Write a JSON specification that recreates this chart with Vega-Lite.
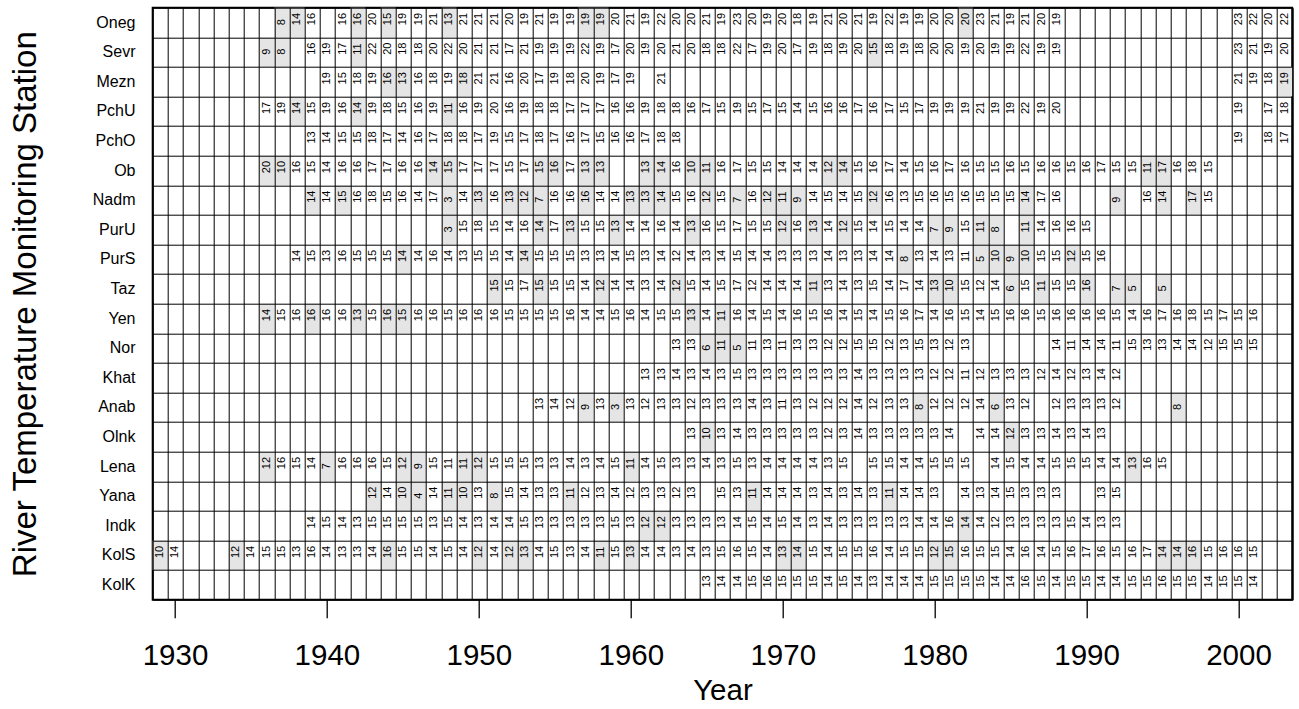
{
"$schema": "https://vega.github.io/schema/vega-lite/v6.json",
"width": 1139.5,
"height": 592,
"autosize": {"type": "none"},
"padding": {"left": 152.7, "top": 7.7, "right": 6.8, "bottom": 109.3},
"background": "white",
"config": {"view": {"stroke": "#000", "strokeWidth": 2}, "font": "Liberation Sans", "axis": {"labelFont": "Liberation Sans", "titleFont": "Liberation Sans", "labelColor": "#000", "titleColor": "#000", "titleFontWeight": "normal", "labelFontWeight": "normal"}},
"data": {"values": [
{"st":"Oneg","yr":1937,"v":8,"s":1},{"st":"Oneg","yr":1938,"v":14,"s":1},{"st":"Oneg","yr":1939,"v":16},{"st":"Oneg","yr":1941,"v":16},{"st":"Oneg","yr":1942,"v":16,"s":1},{"st":"Oneg","yr":1943,"v":20},{"st":"Oneg","yr":1944,"v":15,"s":1},{"st":"Oneg","yr":1945,"v":19},{"st":"Oneg","yr":1946,"v":19},{"st":"Oneg","yr":1947,"v":21},{"st":"Oneg","yr":1948,"v":13,"s":1},{"st":"Oneg","yr":1949,"v":21},{"st":"Oneg","yr":1950,"v":21},{"st":"Oneg","yr":1951,"v":21},{"st":"Oneg","yr":1952,"v":20},{"st":"Oneg","yr":1953,"v":19},{"st":"Oneg","yr":1954,"v":21},{"st":"Oneg","yr":1955,"v":19},{"st":"Oneg","yr":1956,"v":19},{"st":"Oneg","yr":1957,"v":19,"s":1},{"st":"Oneg","yr":1958,"v":19,"s":1},{"st":"Oneg","yr":1959,"v":20},{"st":"Oneg","yr":1960,"v":21},{"st":"Oneg","yr":1961,"v":19},{"st":"Oneg","yr":1962,"v":22},{"st":"Oneg","yr":1963,"v":20},{"st":"Oneg","yr":1964,"v":20},{"st":"Oneg","yr":1965,"v":21},{"st":"Oneg","yr":1966,"v":19},{"st":"Oneg","yr":1967,"v":23},{"st":"Oneg","yr":1968,"v":20},{"st":"Oneg","yr":1969,"v":19},{"st":"Oneg","yr":1970,"v":20},{"st":"Oneg","yr":1971,"v":18},{"st":"Oneg","yr":1972,"v":19},{"st":"Oneg","yr":1973,"v":21},{"st":"Oneg","yr":1974,"v":20},{"st":"Oneg","yr":1975,"v":21},{"st":"Oneg","yr":1976,"v":19},{"st":"Oneg","yr":1977,"v":22},{"st":"Oneg","yr":1978,"v":19},{"st":"Oneg","yr":1979,"v":19},{"st":"Oneg","yr":1980,"v":20},{"st":"Oneg","yr":1981,"v":20},{"st":"Oneg","yr":1982,"v":20,"s":1},{"st":"Oneg","yr":1983,"v":23},{"st":"Oneg","yr":1984,"v":21},{"st":"Oneg","yr":1985,"v":19},{"st":"Oneg","yr":1986,"v":21},{"st":"Oneg","yr":1987,"v":20},{"st":"Oneg","yr":1988,"v":19},{"st":"Oneg","yr":2000,"v":23},{"st":"Oneg","yr":2001,"v":22},{"st":"Oneg","yr":2002,"v":20},{"st":"Oneg","yr":2003,"v":22},
{"st":"Sevr","yr":1936,"v":9,"s":1},{"st":"Sevr","yr":1937,"v":8,"s":1},{"st":"Sevr","yr":1939,"v":16},{"st":"Sevr","yr":1940,"v":19},{"st":"Sevr","yr":1941,"v":17},{"st":"Sevr","yr":1942,"v":11,"s":1},{"st":"Sevr","yr":1943,"v":22},{"st":"Sevr","yr":1944,"v":20},{"st":"Sevr","yr":1945,"v":18},{"st":"Sevr","yr":1946,"v":18},{"st":"Sevr","yr":1947,"v":20},{"st":"Sevr","yr":1948,"v":22},{"st":"Sevr","yr":1949,"v":20},{"st":"Sevr","yr":1950,"v":21},{"st":"Sevr","yr":1951,"v":21},{"st":"Sevr","yr":1952,"v":17},{"st":"Sevr","yr":1953,"v":21},{"st":"Sevr","yr":1954,"v":19},{"st":"Sevr","yr":1955,"v":19},{"st":"Sevr","yr":1956,"v":19},{"st":"Sevr","yr":1957,"v":22},{"st":"Sevr","yr":1958,"v":19},{"st":"Sevr","yr":1959,"v":17},{"st":"Sevr","yr":1960,"v":20},{"st":"Sevr","yr":1961,"v":19},{"st":"Sevr","yr":1962,"v":20},{"st":"Sevr","yr":1963,"v":21},{"st":"Sevr","yr":1964,"v":20},{"st":"Sevr","yr":1965,"v":18},{"st":"Sevr","yr":1966,"v":18},{"st":"Sevr","yr":1967,"v":22},{"st":"Sevr","yr":1968,"v":17},{"st":"Sevr","yr":1969,"v":19},{"st":"Sevr","yr":1970,"v":20},{"st":"Sevr","yr":1971,"v":17},{"st":"Sevr","yr":1972,"v":19},{"st":"Sevr","yr":1973,"v":18},{"st":"Sevr","yr":1974,"v":19},{"st":"Sevr","yr":1975,"v":20},{"st":"Sevr","yr":1976,"v":15,"s":1},{"st":"Sevr","yr":1977,"v":18},{"st":"Sevr","yr":1978,"v":19},{"st":"Sevr","yr":1979,"v":18},{"st":"Sevr","yr":1980,"v":20},{"st":"Sevr","yr":1981,"v":20},{"st":"Sevr","yr":1982,"v":19},{"st":"Sevr","yr":1983,"v":20},{"st":"Sevr","yr":1984,"v":19},{"st":"Sevr","yr":1985,"v":19},{"st":"Sevr","yr":1986,"v":22},{"st":"Sevr","yr":1987,"v":19},{"st":"Sevr","yr":1988,"v":19},{"st":"Sevr","yr":2000,"v":23},{"st":"Sevr","yr":2001,"v":21},{"st":"Sevr","yr":2002,"v":19},{"st":"Sevr","yr":2003,"v":20},
{"st":"Mezn","yr":1940,"v":19},{"st":"Mezn","yr":1941,"v":15},{"st":"Mezn","yr":1942,"v":18},{"st":"Mezn","yr":1943,"v":19},{"st":"Mezn","yr":1944,"v":16,"s":1},{"st":"Mezn","yr":1945,"v":13,"s":1},{"st":"Mezn","yr":1946,"v":16},{"st":"Mezn","yr":1947,"v":18},{"st":"Mezn","yr":1948,"v":19},{"st":"Mezn","yr":1949,"v":18,"s":1},{"st":"Mezn","yr":1950,"v":21},{"st":"Mezn","yr":1951,"v":21},{"st":"Mezn","yr":1952,"v":16},{"st":"Mezn","yr":1953,"v":20},{"st":"Mezn","yr":1954,"v":17},{"st":"Mezn","yr":1955,"v":19},{"st":"Mezn","yr":1956,"v":18},{"st":"Mezn","yr":1957,"v":20},{"st":"Mezn","yr":1958,"v":19},{"st":"Mezn","yr":1959,"v":17},{"st":"Mezn","yr":1960,"v":19},{"st":"Mezn","yr":1962,"v":21},{"st":"Mezn","yr":2000,"v":21},{"st":"Mezn","yr":2001,"v":19},{"st":"Mezn","yr":2002,"v":18},{"st":"Mezn","yr":2003,"v":19,"s":1},
{"st":"PchU","yr":1936,"v":17},{"st":"PchU","yr":1937,"v":19},{"st":"PchU","yr":1938,"v":14,"s":1},{"st":"PchU","yr":1939,"v":15},{"st":"PchU","yr":1940,"v":19},{"st":"PchU","yr":1941,"v":16},{"st":"PchU","yr":1942,"v":14,"s":1},{"st":"PchU","yr":1943,"v":19},{"st":"PchU","yr":1944,"v":18},{"st":"PchU","yr":1945,"v":15},{"st":"PchU","yr":1946,"v":16},{"st":"PchU","yr":1947,"v":19},{"st":"PchU","yr":1948,"v":11,"s":1},{"st":"PchU","yr":1949,"v":16},{"st":"PchU","yr":1950,"v":19},{"st":"PchU","yr":1951,"v":20},{"st":"PchU","yr":1952,"v":16},{"st":"PchU","yr":1953,"v":19},{"st":"PchU","yr":1954,"v":18},{"st":"PchU","yr":1955,"v":18},{"st":"PchU","yr":1956,"v":17},{"st":"PchU","yr":1957,"v":17},{"st":"PchU","yr":1958,"v":17},{"st":"PchU","yr":1959,"v":16},{"st":"PchU","yr":1960,"v":16},{"st":"PchU","yr":1961,"v":19},{"st":"PchU","yr":1962,"v":18},{"st":"PchU","yr":1963,"v":18},{"st":"PchU","yr":1964,"v":16},{"st":"PchU","yr":1965,"v":17},{"st":"PchU","yr":1966,"v":15},{"st":"PchU","yr":1967,"v":19},{"st":"PchU","yr":1968,"v":15},{"st":"PchU","yr":1969,"v":17},{"st":"PchU","yr":1970,"v":15},{"st":"PchU","yr":1971,"v":14},{"st":"PchU","yr":1972,"v":15},{"st":"PchU","yr":1973,"v":16},{"st":"PchU","yr":1974,"v":16},{"st":"PchU","yr":1975,"v":17},{"st":"PchU","yr":1976,"v":16},{"st":"PchU","yr":1977,"v":17},{"st":"PchU","yr":1978,"v":15},{"st":"PchU","yr":1979,"v":17},{"st":"PchU","yr":1980,"v":19},{"st":"PchU","yr":1981,"v":19},{"st":"PchU","yr":1982,"v":19},{"st":"PchU","yr":1983,"v":21},{"st":"PchU","yr":1984,"v":19},{"st":"PchU","yr":1985,"v":19},{"st":"PchU","yr":1986,"v":22},{"st":"PchU","yr":1987,"v":19},{"st":"PchU","yr":1988,"v":20},{"st":"PchU","yr":2000,"v":19},{"st":"PchU","yr":2002,"v":17},{"st":"PchU","yr":2003,"v":18},
{"st":"PchO","yr":1939,"v":13},{"st":"PchO","yr":1940,"v":14},{"st":"PchO","yr":1941,"v":15},{"st":"PchO","yr":1942,"v":15},{"st":"PchO","yr":1943,"v":18},{"st":"PchO","yr":1944,"v":17},{"st":"PchO","yr":1945,"v":14},{"st":"PchO","yr":1946,"v":16},{"st":"PchO","yr":1947,"v":17},{"st":"PchO","yr":1948,"v":18},{"st":"PchO","yr":1949,"v":18},{"st":"PchO","yr":1950,"v":17},{"st":"PchO","yr":1951,"v":19},{"st":"PchO","yr":1952,"v":15},{"st":"PchO","yr":1953,"v":17},{"st":"PchO","yr":1954,"v":18},{"st":"PchO","yr":1955,"v":17},{"st":"PchO","yr":1956,"v":16},{"st":"PchO","yr":1957,"v":17},{"st":"PchO","yr":1958,"v":15},{"st":"PchO","yr":1959,"v":16},{"st":"PchO","yr":1960,"v":16},{"st":"PchO","yr":1961,"v":17},{"st":"PchO","yr":1962,"v":18},{"st":"PchO","yr":1963,"v":18},{"st":"PchO","yr":2000,"v":19},{"st":"PchO","yr":2002,"v":18},{"st":"PchO","yr":2003,"v":17},
{"st":"Ob","yr":1936,"v":20,"s":1},{"st":"Ob","yr":1937,"v":10,"s":1},{"st":"Ob","yr":1938,"v":16},{"st":"Ob","yr":1939,"v":15},{"st":"Ob","yr":1940,"v":14},{"st":"Ob","yr":1941,"v":16},{"st":"Ob","yr":1942,"v":16},{"st":"Ob","yr":1943,"v":17},{"st":"Ob","yr":1944,"v":17},{"st":"Ob","yr":1945,"v":16},{"st":"Ob","yr":1946,"v":16},{"st":"Ob","yr":1947,"v":14,"s":1},{"st":"Ob","yr":1948,"v":15,"s":1},{"st":"Ob","yr":1949,"v":17},{"st":"Ob","yr":1950,"v":17},{"st":"Ob","yr":1951,"v":17},{"st":"Ob","yr":1952,"v":15},{"st":"Ob","yr":1953,"v":17},{"st":"Ob","yr":1954,"v":15,"s":1},{"st":"Ob","yr":1955,"v":16,"s":1},{"st":"Ob","yr":1956,"v":17},{"st":"Ob","yr":1957,"v":13,"s":1},{"st":"Ob","yr":1958,"v":13,"s":1},{"st":"Ob","yr":1961,"v":13,"s":1},{"st":"Ob","yr":1962,"v":14,"s":1},{"st":"Ob","yr":1963,"v":16},{"st":"Ob","yr":1964,"v":10,"s":1},{"st":"Ob","yr":1965,"v":11,"s":1},{"st":"Ob","yr":1966,"v":16},{"st":"Ob","yr":1967,"v":17},{"st":"Ob","yr":1968,"v":15},{"st":"Ob","yr":1969,"v":15},{"st":"Ob","yr":1970,"v":14},{"st":"Ob","yr":1971,"v":14},{"st":"Ob","yr":1972,"v":14},{"st":"Ob","yr":1973,"v":12,"s":1},{"st":"Ob","yr":1974,"v":14,"s":1},{"st":"Ob","yr":1975,"v":15},{"st":"Ob","yr":1976,"v":16},{"st":"Ob","yr":1977,"v":17},{"st":"Ob","yr":1978,"v":14},{"st":"Ob","yr":1979,"v":15},{"st":"Ob","yr":1980,"v":16},{"st":"Ob","yr":1981,"v":17},{"st":"Ob","yr":1982,"v":16},{"st":"Ob","yr":1983,"v":15},{"st":"Ob","yr":1984,"v":15},{"st":"Ob","yr":1985,"v":16},{"st":"Ob","yr":1986,"v":15},{"st":"Ob","yr":1987,"v":16},{"st":"Ob","yr":1988,"v":16},{"st":"Ob","yr":1989,"v":15},{"st":"Ob","yr":1990,"v":16},{"st":"Ob","yr":1991,"v":17},{"st":"Ob","yr":1992,"v":15},{"st":"Ob","yr":1993,"v":15},{"st":"Ob","yr":1994,"v":11,"s":1},{"st":"Ob","yr":1995,"v":17,"s":1},{"st":"Ob","yr":1996,"v":16},{"st":"Ob","yr":1997,"v":18},{"st":"Ob","yr":1998,"v":15},
{"st":"Nadm","yr":1939,"v":14,"s":1},{"st":"Nadm","yr":1940,"v":14},{"st":"Nadm","yr":1941,"v":15,"s":1},{"st":"Nadm","yr":1942,"v":16},{"st":"Nadm","yr":1943,"v":18},{"st":"Nadm","yr":1944,"v":15},{"st":"Nadm","yr":1945,"v":16},{"st":"Nadm","yr":1946,"v":14},{"st":"Nadm","yr":1947,"v":17},{"st":"Nadm","yr":1948,"v":3,"s":1},{"st":"Nadm","yr":1949,"v":14},{"st":"Nadm","yr":1950,"v":13,"s":1},{"st":"Nadm","yr":1951,"v":16},{"st":"Nadm","yr":1952,"v":13,"s":1},{"st":"Nadm","yr":1953,"v":12,"s":1},{"st":"Nadm","yr":1954,"v":7,"s":1},{"st":"Nadm","yr":1955,"v":16},{"st":"Nadm","yr":1956,"v":16},{"st":"Nadm","yr":1957,"v":16,"s":1},{"st":"Nadm","yr":1958,"v":14},{"st":"Nadm","yr":1959,"v":14},{"st":"Nadm","yr":1960,"v":13,"s":1},{"st":"Nadm","yr":1961,"v":13,"s":1},{"st":"Nadm","yr":1962,"v":14,"s":1},{"st":"Nadm","yr":1963,"v":15},{"st":"Nadm","yr":1964,"v":16},{"st":"Nadm","yr":1965,"v":12,"s":1},{"st":"Nadm","yr":1966,"v":15},{"st":"Nadm","yr":1967,"v":7,"s":1},{"st":"Nadm","yr":1968,"v":16},{"st":"Nadm","yr":1969,"v":12,"s":1},{"st":"Nadm","yr":1970,"v":11,"s":1},{"st":"Nadm","yr":1971,"v":9,"s":1},{"st":"Nadm","yr":1972,"v":14},{"st":"Nadm","yr":1973,"v":15},{"st":"Nadm","yr":1974,"v":14},{"st":"Nadm","yr":1975,"v":15},{"st":"Nadm","yr":1976,"v":12,"s":1},{"st":"Nadm","yr":1977,"v":16},{"st":"Nadm","yr":1978,"v":13},{"st":"Nadm","yr":1979,"v":15},{"st":"Nadm","yr":1980,"v":16},{"st":"Nadm","yr":1981,"v":15},{"st":"Nadm","yr":1982,"v":16},{"st":"Nadm","yr":1983,"v":15},{"st":"Nadm","yr":1984,"v":15},{"st":"Nadm","yr":1985,"v":15},{"st":"Nadm","yr":1986,"v":14,"s":1},{"st":"Nadm","yr":1987,"v":17},{"st":"Nadm","yr":1988,"v":16},{"st":"Nadm","yr":1992,"v":9,"s":1},{"st":"Nadm","yr":1994,"v":16},{"st":"Nadm","yr":1995,"v":14,"s":1},{"st":"Nadm","yr":1997,"v":17,"s":1},{"st":"Nadm","yr":1998,"v":15},
{"st":"PurU","yr":1948,"v":3,"s":1},{"st":"PurU","yr":1949,"v":15},{"st":"PurU","yr":1950,"v":18},{"st":"PurU","yr":1951,"v":15},{"st":"PurU","yr":1952,"v":14},{"st":"PurU","yr":1953,"v":16},{"st":"PurU","yr":1954,"v":14,"s":1},{"st":"PurU","yr":1955,"v":17},{"st":"PurU","yr":1956,"v":13,"s":1},{"st":"PurU","yr":1957,"v":15},{"st":"PurU","yr":1958,"v":15},{"st":"PurU","yr":1959,"v":13,"s":1},{"st":"PurU","yr":1960,"v":14},{"st":"PurU","yr":1961,"v":14},{"st":"PurU","yr":1962,"v":16},{"st":"PurU","yr":1963,"v":14},{"st":"PurU","yr":1964,"v":13,"s":1},{"st":"PurU","yr":1965,"v":16},{"st":"PurU","yr":1966,"v":15},{"st":"PurU","yr":1967,"v":17},{"st":"PurU","yr":1968,"v":15},{"st":"PurU","yr":1969,"v":15},{"st":"PurU","yr":1970,"v":12,"s":1},{"st":"PurU","yr":1971,"v":16},{"st":"PurU","yr":1972,"v":13,"s":1},{"st":"PurU","yr":1973,"v":14},{"st":"PurU","yr":1974,"v":12,"s":1},{"st":"PurU","yr":1975,"v":15},{"st":"PurU","yr":1976,"v":14},{"st":"PurU","yr":1977,"v":15},{"st":"PurU","yr":1978,"v":14},{"st":"PurU","yr":1979,"v":14},{"st":"PurU","yr":1980,"v":7,"s":1},{"st":"PurU","yr":1981,"v":9,"s":1},{"st":"PurU","yr":1982,"v":15},{"st":"PurU","yr":1983,"v":11,"s":1},{"st":"PurU","yr":1984,"v":8,"s":1},{"st":"PurU","yr":1986,"v":11,"s":1},{"st":"PurU","yr":1987,"v":14},{"st":"PurU","yr":1988,"v":16},{"st":"PurU","yr":1989,"v":16},{"st":"PurU","yr":1990,"v":15},
{"st":"PurS","yr":1938,"v":14},{"st":"PurS","yr":1939,"v":15},{"st":"PurS","yr":1940,"v":13},{"st":"PurS","yr":1941,"v":16},{"st":"PurS","yr":1942,"v":15},{"st":"PurS","yr":1943,"v":15},{"st":"PurS","yr":1944,"v":15},{"st":"PurS","yr":1945,"v":14,"s":1},{"st":"PurS","yr":1946,"v":14},{"st":"PurS","yr":1947,"v":16},{"st":"PurS","yr":1948,"v":14},{"st":"PurS","yr":1949,"v":13},{"st":"PurS","yr":1950,"v":15},{"st":"PurS","yr":1951,"v":15},{"st":"PurS","yr":1952,"v":14},{"st":"PurS","yr":1953,"v":14,"s":1},{"st":"PurS","yr":1954,"v":15},{"st":"PurS","yr":1955,"v":15},{"st":"PurS","yr":1956,"v":15},{"st":"PurS","yr":1957,"v":13},{"st":"PurS","yr":1958,"v":13},{"st":"PurS","yr":1959,"v":14},{"st":"PurS","yr":1960,"v":15},{"st":"PurS","yr":1961,"v":13},{"st":"PurS","yr":1962,"v":14},{"st":"PurS","yr":1963,"v":12},{"st":"PurS","yr":1964,"v":14},{"st":"PurS","yr":1965,"v":13},{"st":"PurS","yr":1966,"v":14},{"st":"PurS","yr":1967,"v":15},{"st":"PurS","yr":1968,"v":14},{"st":"PurS","yr":1969,"v":14},{"st":"PurS","yr":1970,"v":13},{"st":"PurS","yr":1971,"v":13},{"st":"PurS","yr":1972,"v":13},{"st":"PurS","yr":1973,"v":14},{"st":"PurS","yr":1974,"v":13},{"st":"PurS","yr":1975,"v":13},{"st":"PurS","yr":1976,"v":14},{"st":"PurS","yr":1977,"v":14},{"st":"PurS","yr":1978,"v":8,"s":1},{"st":"PurS","yr":1979,"v":13},{"st":"PurS","yr":1980,"v":14},{"st":"PurS","yr":1981,"v":13},{"st":"PurS","yr":1982,"v":11},{"st":"PurS","yr":1983,"v":5,"s":1},{"st":"PurS","yr":1984,"v":10,"s":1},{"st":"PurS","yr":1985,"v":9,"s":1},{"st":"PurS","yr":1986,"v":10,"s":1},{"st":"PurS","yr":1987,"v":15},{"st":"PurS","yr":1988,"v":15},{"st":"PurS","yr":1989,"v":12,"s":1},{"st":"PurS","yr":1990,"v":15},{"st":"PurS","yr":1991,"v":16},
{"st":"Taz","yr":1951,"v":15,"s":1},{"st":"Taz","yr":1952,"v":15},{"st":"Taz","yr":1953,"v":17},{"st":"Taz","yr":1954,"v":15,"s":1},{"st":"Taz","yr":1955,"v":15},{"st":"Taz","yr":1956,"v":15},{"st":"Taz","yr":1957,"v":14},{"st":"Taz","yr":1958,"v":12,"s":1},{"st":"Taz","yr":1959,"v":14},{"st":"Taz","yr":1960,"v":14},{"st":"Taz","yr":1961,"v":13},{"st":"Taz","yr":1962,"v":14},{"st":"Taz","yr":1963,"v":12,"s":1},{"st":"Taz","yr":1964,"v":15},{"st":"Taz","yr":1965,"v":14},{"st":"Taz","yr":1966,"v":15},{"st":"Taz","yr":1967,"v":17},{"st":"Taz","yr":1968,"v":12},{"st":"Taz","yr":1969,"v":14},{"st":"Taz","yr":1970,"v":14},{"st":"Taz","yr":1971,"v":14},{"st":"Taz","yr":1972,"v":11,"s":1},{"st":"Taz","yr":1973,"v":13},{"st":"Taz","yr":1974,"v":14},{"st":"Taz","yr":1975,"v":13},{"st":"Taz","yr":1976,"v":15},{"st":"Taz","yr":1977,"v":14},{"st":"Taz","yr":1978,"v":17},{"st":"Taz","yr":1979,"v":14},{"st":"Taz","yr":1980,"v":13,"s":1},{"st":"Taz","yr":1981,"v":10,"s":1},{"st":"Taz","yr":1982,"v":15},{"st":"Taz","yr":1983,"v":12},{"st":"Taz","yr":1984,"v":14},{"st":"Taz","yr":1985,"v":6,"s":1},{"st":"Taz","yr":1986,"v":15},{"st":"Taz","yr":1987,"v":11,"s":1},{"st":"Taz","yr":1988,"v":15},{"st":"Taz","yr":1989,"v":15},{"st":"Taz","yr":1990,"v":16,"s":1},{"st":"Taz","yr":1992,"v":7,"s":1},{"st":"Taz","yr":1993,"v":5,"s":1},{"st":"Taz","yr":1995,"v":5,"s":1},
{"st":"Yen","yr":1936,"v":14,"s":1},{"st":"Yen","yr":1937,"v":15},{"st":"Yen","yr":1938,"v":16},{"st":"Yen","yr":1939,"v":16,"s":1},{"st":"Yen","yr":1940,"v":16},{"st":"Yen","yr":1941,"v":16},{"st":"Yen","yr":1942,"v":13,"s":1},{"st":"Yen","yr":1943,"v":15},{"st":"Yen","yr":1944,"v":16,"s":1},{"st":"Yen","yr":1945,"v":15,"s":1},{"st":"Yen","yr":1946,"v":16},{"st":"Yen","yr":1947,"v":16},{"st":"Yen","yr":1948,"v":15},{"st":"Yen","yr":1949,"v":16},{"st":"Yen","yr":1950,"v":16},{"st":"Yen","yr":1951,"v":16},{"st":"Yen","yr":1952,"v":15},{"st":"Yen","yr":1953,"v":15},{"st":"Yen","yr":1954,"v":15},{"st":"Yen","yr":1955,"v":15},{"st":"Yen","yr":1956,"v":16},{"st":"Yen","yr":1957,"v":14},{"st":"Yen","yr":1958,"v":14},{"st":"Yen","yr":1959,"v":15},{"st":"Yen","yr":1960,"v":16},{"st":"Yen","yr":1961,"v":14},{"st":"Yen","yr":1962,"v":15},{"st":"Yen","yr":1963,"v":15},{"st":"Yen","yr":1964,"v":13,"s":1},{"st":"Yen","yr":1965,"v":14},{"st":"Yen","yr":1966,"v":11,"s":1},{"st":"Yen","yr":1967,"v":16},{"st":"Yen","yr":1968,"v":14},{"st":"Yen","yr":1969,"v":15},{"st":"Yen","yr":1970,"v":14},{"st":"Yen","yr":1971,"v":16},{"st":"Yen","yr":1972,"v":15},{"st":"Yen","yr":1973,"v":16},{"st":"Yen","yr":1974,"v":14},{"st":"Yen","yr":1975,"v":15},{"st":"Yen","yr":1976,"v":14},{"st":"Yen","yr":1977,"v":15},{"st":"Yen","yr":1978,"v":16},{"st":"Yen","yr":1979,"v":17},{"st":"Yen","yr":1980,"v":14},{"st":"Yen","yr":1981,"v":16},{"st":"Yen","yr":1982,"v":15},{"st":"Yen","yr":1983,"v":14},{"st":"Yen","yr":1984,"v":15},{"st":"Yen","yr":1985,"v":16},{"st":"Yen","yr":1986,"v":16},{"st":"Yen","yr":1987,"v":15},{"st":"Yen","yr":1988,"v":16},{"st":"Yen","yr":1989,"v":16},{"st":"Yen","yr":1990,"v":16},{"st":"Yen","yr":1991,"v":16},{"st":"Yen","yr":1992,"v":15},{"st":"Yen","yr":1993,"v":14},{"st":"Yen","yr":1994,"v":16},{"st":"Yen","yr":1995,"v":17},{"st":"Yen","yr":1996,"v":16},{"st":"Yen","yr":1997,"v":18},{"st":"Yen","yr":1998,"v":15},{"st":"Yen","yr":1999,"v":17},{"st":"Yen","yr":2000,"v":15},{"st":"Yen","yr":2001,"v":16},
{"st":"Nor","yr":1963,"v":13},{"st":"Nor","yr":1964,"v":13},{"st":"Nor","yr":1965,"v":6,"s":1},{"st":"Nor","yr":1966,"v":11,"s":1},{"st":"Nor","yr":1967,"v":5,"s":1},{"st":"Nor","yr":1968,"v":11},{"st":"Nor","yr":1969,"v":13},{"st":"Nor","yr":1970,"v":11},{"st":"Nor","yr":1971,"v":13},{"st":"Nor","yr":1972,"v":13},{"st":"Nor","yr":1973,"v":12},{"st":"Nor","yr":1974,"v":12},{"st":"Nor","yr":1975,"v":15},{"st":"Nor","yr":1976,"v":15},{"st":"Nor","yr":1977,"v":12},{"st":"Nor","yr":1978,"v":13},{"st":"Nor","yr":1979,"v":15},{"st":"Nor","yr":1980,"v":13},{"st":"Nor","yr":1981,"v":12},{"st":"Nor","yr":1982,"v":13},{"st":"Nor","yr":1988,"v":14},{"st":"Nor","yr":1989,"v":11},{"st":"Nor","yr":1990,"v":14},{"st":"Nor","yr":1991,"v":14},{"st":"Nor","yr":1992,"v":11},{"st":"Nor","yr":1993,"v":15},{"st":"Nor","yr":1994,"v":13},{"st":"Nor","yr":1995,"v":13},{"st":"Nor","yr":1996,"v":14},{"st":"Nor","yr":1997,"v":14},{"st":"Nor","yr":1998,"v":12},{"st":"Nor","yr":1999,"v":15},{"st":"Nor","yr":2000,"v":15},{"st":"Nor","yr":2001,"v":15},
{"st":"Khat","yr":1961,"v":13},{"st":"Khat","yr":1962,"v":13},{"st":"Khat","yr":1963,"v":14},{"st":"Khat","yr":1964,"v":13},{"st":"Khat","yr":1965,"v":14},{"st":"Khat","yr":1966,"v":13},{"st":"Khat","yr":1967,"v":15},{"st":"Khat","yr":1968,"v":13},{"st":"Khat","yr":1969,"v":13},{"st":"Khat","yr":1970,"v":13},{"st":"Khat","yr":1971,"v":13},{"st":"Khat","yr":1972,"v":13},{"st":"Khat","yr":1973,"v":13},{"st":"Khat","yr":1974,"v":13},{"st":"Khat","yr":1975,"v":14},{"st":"Khat","yr":1976,"v":13},{"st":"Khat","yr":1977,"v":13},{"st":"Khat","yr":1978,"v":13},{"st":"Khat","yr":1979,"v":13},{"st":"Khat","yr":1980,"v":12},{"st":"Khat","yr":1981,"v":12},{"st":"Khat","yr":1982,"v":11},{"st":"Khat","yr":1983,"v":12},{"st":"Khat","yr":1984,"v":13},{"st":"Khat","yr":1985,"v":13},{"st":"Khat","yr":1986,"v":13},{"st":"Khat","yr":1987,"v":12},{"st":"Khat","yr":1988,"v":14},{"st":"Khat","yr":1989,"v":12},{"st":"Khat","yr":1990,"v":13},{"st":"Khat","yr":1991,"v":14},{"st":"Khat","yr":1992,"v":12},
{"st":"Anab","yr":1954,"v":13},{"st":"Anab","yr":1955,"v":14},{"st":"Anab","yr":1956,"v":12},{"st":"Anab","yr":1957,"v":9,"s":1},{"st":"Anab","yr":1958,"v":13},{"st":"Anab","yr":1959,"v":3,"s":1},{"st":"Anab","yr":1960,"v":13},{"st":"Anab","yr":1961,"v":12},{"st":"Anab","yr":1962,"v":13},{"st":"Anab","yr":1963,"v":13},{"st":"Anab","yr":1964,"v":12},{"st":"Anab","yr":1965,"v":13},{"st":"Anab","yr":1966,"v":13},{"st":"Anab","yr":1967,"v":13},{"st":"Anab","yr":1968,"v":14},{"st":"Anab","yr":1969,"v":13},{"st":"Anab","yr":1970,"v":11},{"st":"Anab","yr":1971,"v":13},{"st":"Anab","yr":1972,"v":12},{"st":"Anab","yr":1973,"v":12},{"st":"Anab","yr":1974,"v":12},{"st":"Anab","yr":1975,"v":14},{"st":"Anab","yr":1976,"v":12},{"st":"Anab","yr":1977,"v":13},{"st":"Anab","yr":1978,"v":13},{"st":"Anab","yr":1979,"v":8,"s":1},{"st":"Anab","yr":1980,"v":12},{"st":"Anab","yr":1981,"v":12},{"st":"Anab","yr":1982,"v":12},{"st":"Anab","yr":1983,"v":14},{"st":"Anab","yr":1984,"v":6,"s":1},{"st":"Anab","yr":1985,"v":13},{"st":"Anab","yr":1986,"v":12},{"st":"Anab","yr":1988,"v":12},{"st":"Anab","yr":1989,"v":13},{"st":"Anab","yr":1990,"v":13},{"st":"Anab","yr":1991,"v":13},{"st":"Anab","yr":1992,"v":12},{"st":"Anab","yr":1996,"v":8,"s":1},
{"st":"Olnk","yr":1964,"v":13},{"st":"Olnk","yr":1965,"v":10,"s":1},{"st":"Olnk","yr":1966,"v":13},{"st":"Olnk","yr":1967,"v":14},{"st":"Olnk","yr":1968,"v":13},{"st":"Olnk","yr":1969,"v":13},{"st":"Olnk","yr":1970,"v":13},{"st":"Olnk","yr":1971,"v":13},{"st":"Olnk","yr":1972,"v":13},{"st":"Olnk","yr":1973,"v":12},{"st":"Olnk","yr":1974,"v":13},{"st":"Olnk","yr":1975,"v":14},{"st":"Olnk","yr":1976,"v":13},{"st":"Olnk","yr":1977,"v":13},{"st":"Olnk","yr":1978,"v":13},{"st":"Olnk","yr":1979,"v":13},{"st":"Olnk","yr":1980,"v":13},{"st":"Olnk","yr":1981,"v":14},{"st":"Olnk","yr":1983,"v":14},{"st":"Olnk","yr":1984,"v":14},{"st":"Olnk","yr":1985,"v":12,"s":1},{"st":"Olnk","yr":1986,"v":13},{"st":"Olnk","yr":1987,"v":13},{"st":"Olnk","yr":1988,"v":14},{"st":"Olnk","yr":1989,"v":13},{"st":"Olnk","yr":1990,"v":14},{"st":"Olnk","yr":1991,"v":13},
{"st":"Lena","yr":1936,"v":12,"s":1},{"st":"Lena","yr":1937,"v":16},{"st":"Lena","yr":1938,"v":15},{"st":"Lena","yr":1939,"v":14},{"st":"Lena","yr":1940,"v":7,"s":1},{"st":"Lena","yr":1941,"v":16},{"st":"Lena","yr":1942,"v":16},{"st":"Lena","yr":1943,"v":16},{"st":"Lena","yr":1944,"v":15},{"st":"Lena","yr":1945,"v":12,"s":1},{"st":"Lena","yr":1946,"v":9,"s":1},{"st":"Lena","yr":1947,"v":15},{"st":"Lena","yr":1948,"v":11},{"st":"Lena","yr":1949,"v":11,"s":1},{"st":"Lena","yr":1950,"v":12,"s":1},{"st":"Lena","yr":1951,"v":15},{"st":"Lena","yr":1952,"v":15},{"st":"Lena","yr":1953,"v":15},{"st":"Lena","yr":1954,"v":13},{"st":"Lena","yr":1955,"v":13},{"st":"Lena","yr":1956,"v":14},{"st":"Lena","yr":1957,"v":13},{"st":"Lena","yr":1958,"v":14},{"st":"Lena","yr":1959,"v":15},{"st":"Lena","yr":1960,"v":11,"s":1},{"st":"Lena","yr":1961,"v":14},{"st":"Lena","yr":1962,"v":15},{"st":"Lena","yr":1963,"v":13},{"st":"Lena","yr":1964,"v":13},{"st":"Lena","yr":1965,"v":14},{"st":"Lena","yr":1966,"v":13},{"st":"Lena","yr":1967,"v":15},{"st":"Lena","yr":1968,"v":13},{"st":"Lena","yr":1969,"v":14},{"st":"Lena","yr":1970,"v":14},{"st":"Lena","yr":1971,"v":14},{"st":"Lena","yr":1972,"v":14},{"st":"Lena","yr":1973,"v":13},{"st":"Lena","yr":1974,"v":15},{"st":"Lena","yr":1976,"v":15},{"st":"Lena","yr":1977,"v":15},{"st":"Lena","yr":1978,"v":14},{"st":"Lena","yr":1979,"v":14},{"st":"Lena","yr":1980,"v":15},{"st":"Lena","yr":1981,"v":15},{"st":"Lena","yr":1982,"v":15},{"st":"Lena","yr":1984,"v":14},{"st":"Lena","yr":1985,"v":15},{"st":"Lena","yr":1986,"v":14},{"st":"Lena","yr":1987,"v":14},{"st":"Lena","yr":1988,"v":15},{"st":"Lena","yr":1989,"v":15},{"st":"Lena","yr":1990,"v":15},{"st":"Lena","yr":1991,"v":14},{"st":"Lena","yr":1992,"v":14},{"st":"Lena","yr":1993,"v":13,"s":1},{"st":"Lena","yr":1994,"v":16},{"st":"Lena","yr":1995,"v":15},
{"st":"Yana","yr":1943,"v":12,"s":1},{"st":"Yana","yr":1944,"v":14},{"st":"Yana","yr":1945,"v":10,"s":1},{"st":"Yana","yr":1946,"v":4,"s":1},{"st":"Yana","yr":1947,"v":14},{"st":"Yana","yr":1948,"v":11,"s":1},{"st":"Yana","yr":1949,"v":10,"s":1},{"st":"Yana","yr":1950,"v":13},{"st":"Yana","yr":1951,"v":8,"s":1},{"st":"Yana","yr":1952,"v":15},{"st":"Yana","yr":1953,"v":14},{"st":"Yana","yr":1954,"v":13},{"st":"Yana","yr":1955,"v":13},{"st":"Yana","yr":1956,"v":11,"s":1},{"st":"Yana","yr":1957,"v":12},{"st":"Yana","yr":1958,"v":13},{"st":"Yana","yr":1959,"v":14},{"st":"Yana","yr":1960,"v":12},{"st":"Yana","yr":1961,"v":13},{"st":"Yana","yr":1962,"v":13},{"st":"Yana","yr":1963,"v":12},{"st":"Yana","yr":1964,"v":13},{"st":"Yana","yr":1966,"v":15},{"st":"Yana","yr":1967,"v":13},{"st":"Yana","yr":1968,"v":11,"s":1},{"st":"Yana","yr":1969,"v":14},{"st":"Yana","yr":1970,"v":14},{"st":"Yana","yr":1971,"v":14},{"st":"Yana","yr":1972,"v":13},{"st":"Yana","yr":1973,"v":14},{"st":"Yana","yr":1974,"v":13},{"st":"Yana","yr":1975,"v":14},{"st":"Yana","yr":1976,"v":13},{"st":"Yana","yr":1977,"v":11,"s":1},{"st":"Yana","yr":1978,"v":14},{"st":"Yana","yr":1979,"v":14},{"st":"Yana","yr":1980,"v":13},{"st":"Yana","yr":1982,"v":14},{"st":"Yana","yr":1983,"v":13},{"st":"Yana","yr":1984,"v":14},{"st":"Yana","yr":1985,"v":15},{"st":"Yana","yr":1986,"v":13},{"st":"Yana","yr":1987,"v":13},{"st":"Yana","yr":1988,"v":13},{"st":"Yana","yr":1991,"v":13},{"st":"Yana","yr":1992,"v":15},
{"st":"Indk","yr":1939,"v":14},{"st":"Indk","yr":1940,"v":15},{"st":"Indk","yr":1941,"v":14},{"st":"Indk","yr":1942,"v":13},{"st":"Indk","yr":1943,"v":15},{"st":"Indk","yr":1944,"v":15},{"st":"Indk","yr":1945,"v":15},{"st":"Indk","yr":1946,"v":15},{"st":"Indk","yr":1947,"v":13},{"st":"Indk","yr":1948,"v":15},{"st":"Indk","yr":1949,"v":14},{"st":"Indk","yr":1950,"v":13},{"st":"Indk","yr":1951,"v":14},{"st":"Indk","yr":1952,"v":14},{"st":"Indk","yr":1953,"v":15},{"st":"Indk","yr":1954,"v":13},{"st":"Indk","yr":1955,"v":13},{"st":"Indk","yr":1956,"v":13},{"st":"Indk","yr":1957,"v":13},{"st":"Indk","yr":1958,"v":13},{"st":"Indk","yr":1959,"v":15},{"st":"Indk","yr":1960,"v":13},{"st":"Indk","yr":1961,"v":12,"s":1},{"st":"Indk","yr":1962,"v":12,"s":1},{"st":"Indk","yr":1963,"v":13},{"st":"Indk","yr":1964,"v":13},{"st":"Indk","yr":1965,"v":13},{"st":"Indk","yr":1966,"v":13},{"st":"Indk","yr":1967,"v":14},{"st":"Indk","yr":1968,"v":15},{"st":"Indk","yr":1969,"v":14},{"st":"Indk","yr":1970,"v":15},{"st":"Indk","yr":1971,"v":14},{"st":"Indk","yr":1972,"v":13},{"st":"Indk","yr":1973,"v":14},{"st":"Indk","yr":1974,"v":13},{"st":"Indk","yr":1975,"v":13},{"st":"Indk","yr":1976,"v":13},{"st":"Indk","yr":1977,"v":13},{"st":"Indk","yr":1978,"v":13},{"st":"Indk","yr":1979,"v":14},{"st":"Indk","yr":1980,"v":14},{"st":"Indk","yr":1981,"v":16},{"st":"Indk","yr":1982,"v":14,"s":1},{"st":"Indk","yr":1983,"v":14},{"st":"Indk","yr":1984,"v":12},{"st":"Indk","yr":1985,"v":13},{"st":"Indk","yr":1986,"v":13},{"st":"Indk","yr":1987,"v":13},{"st":"Indk","yr":1988,"v":13},{"st":"Indk","yr":1989,"v":15},{"st":"Indk","yr":1990,"v":14},{"st":"Indk","yr":1991,"v":13},{"st":"Indk","yr":1992,"v":13},
{"st":"KolS","yr":1929,"v":10,"s":1},{"st":"KolS","yr":1930,"v":14},{"st":"KolS","yr":1934,"v":12,"s":1},{"st":"KolS","yr":1935,"v":14},{"st":"KolS","yr":1936,"v":15},{"st":"KolS","yr":1937,"v":15},{"st":"KolS","yr":1938,"v":13},{"st":"KolS","yr":1939,"v":16},{"st":"KolS","yr":1940,"v":14},{"st":"KolS","yr":1941,"v":13},{"st":"KolS","yr":1942,"v":13},{"st":"KolS","yr":1943,"v":14},{"st":"KolS","yr":1944,"v":16,"s":1},{"st":"KolS","yr":1945,"v":15},{"st":"KolS","yr":1946,"v":15},{"st":"KolS","yr":1947,"v":14},{"st":"KolS","yr":1948,"v":15},{"st":"KolS","yr":1949,"v":14},{"st":"KolS","yr":1950,"v":12,"s":1},{"st":"KolS","yr":1951,"v":14},{"st":"KolS","yr":1952,"v":12,"s":1},{"st":"KolS","yr":1953,"v":13,"s":1},{"st":"KolS","yr":1954,"v":14},{"st":"KolS","yr":1955,"v":15},{"st":"KolS","yr":1956,"v":13},{"st":"KolS","yr":1957,"v":14},{"st":"KolS","yr":1958,"v":11,"s":1},{"st":"KolS","yr":1959,"v":15},{"st":"KolS","yr":1960,"v":13,"s":1},{"st":"KolS","yr":1961,"v":14},{"st":"KolS","yr":1962,"v":14},{"st":"KolS","yr":1963,"v":13},{"st":"KolS","yr":1964,"v":14},{"st":"KolS","yr":1965,"v":13},{"st":"KolS","yr":1966,"v":15},{"st":"KolS","yr":1967,"v":16},{"st":"KolS","yr":1968,"v":15},{"st":"KolS","yr":1969,"v":14},{"st":"KolS","yr":1970,"v":13,"s":1},{"st":"KolS","yr":1971,"v":14,"s":1},{"st":"KolS","yr":1972,"v":15},{"st":"KolS","yr":1973,"v":14},{"st":"KolS","yr":1974,"v":15},{"st":"KolS","yr":1975,"v":15},{"st":"KolS","yr":1976,"v":16},{"st":"KolS","yr":1977,"v":14},{"st":"KolS","yr":1978,"v":15},{"st":"KolS","yr":1979,"v":15},{"st":"KolS","yr":1980,"v":12,"s":1},{"st":"KolS","yr":1981,"v":15,"s":1},{"st":"KolS","yr":1982,"v":16},{"st":"KolS","yr":1983,"v":15},{"st":"KolS","yr":1984,"v":15},{"st":"KolS","yr":1985,"v":14},{"st":"KolS","yr":1986,"v":16},{"st":"KolS","yr":1987,"v":14},{"st":"KolS","yr":1988,"v":15},{"st":"KolS","yr":1989,"v":16},{"st":"KolS","yr":1990,"v":17},{"st":"KolS","yr":1991,"v":16},{"st":"KolS","yr":1992,"v":15},{"st":"KolS","yr":1993,"v":16},{"st":"KolS","yr":1994,"v":17},{"st":"KolS","yr":1995,"v":14,"s":1},{"st":"KolS","yr":1996,"v":14,"s":1},{"st":"KolS","yr":1997,"v":16,"s":1},{"st":"KolS","yr":1998,"v":15},{"st":"KolS","yr":1999,"v":16},{"st":"KolS","yr":2000,"v":16},{"st":"KolS","yr":2001,"v":15},
{"st":"KolK","yr":1965,"v":13},{"st":"KolK","yr":1966,"v":14},{"st":"KolK","yr":1967,"v":14},{"st":"KolK","yr":1968,"v":15},{"st":"KolK","yr":1969,"v":16},{"st":"KolK","yr":1970,"v":15},{"st":"KolK","yr":1971,"v":15},{"st":"KolK","yr":1972,"v":15},{"st":"KolK","yr":1973,"v":14},{"st":"KolK","yr":1974,"v":15},{"st":"KolK","yr":1975,"v":14},{"st":"KolK","yr":1976,"v":13},{"st":"KolK","yr":1977,"v":14},{"st":"KolK","yr":1978,"v":14},{"st":"KolK","yr":1979,"v":14},{"st":"KolK","yr":1980,"v":15},{"st":"KolK","yr":1981,"v":15},{"st":"KolK","yr":1982,"v":15},{"st":"KolK","yr":1983,"v":15},{"st":"KolK","yr":1984,"v":14},{"st":"KolK","yr":1985,"v":14},{"st":"KolK","yr":1986,"v":16},{"st":"KolK","yr":1987,"v":15},{"st":"KolK","yr":1988,"v":14},{"st":"KolK","yr":1989,"v":15},{"st":"KolK","yr":1990,"v":15},{"st":"KolK","yr":1991,"v":14},{"st":"KolK","yr":1992,"v":14},{"st":"KolK","yr":1993,"v":15},{"st":"KolK","yr":1994,"v":15},{"st":"KolK","yr":1995,"v":16},{"st":"KolK","yr":1996,"v":15},{"st":"KolK","yr":1997,"v":15},{"st":"KolK","yr":1998,"v":14},{"st":"KolK","yr":1999,"v":15},{"st":"KolK","yr":2000,"v":15},{"st":"KolK","yr":2001,"v":14}
]},
"layer": [
{"transform": [{"filter": "datum.s == 1"}],
 "mark": {"type": "rect", "fill": "#e5e5e5"},
 "encoding": {
  "x": {"field": "yr", "type": "ordinal",
   "scale": {"type": "band", "paddingInner": 0, "paddingOuter": 0, "domain": [1929,1930,1931,1932,1933,1934,1935,1936,1937,1938,1939,1940,1941,1942,1943,1944,1945,1946,1947,1948,1949,1950,1951,1952,1953,1954,1955,1956,1957,1958,1959,1960,1961,1962,1963,1964,1965,1966,1967,1968,1969,1970,1971,1972,1973,1974,1975,1976,1977,1978,1979,1980,1981,1982,1983,1984,1985,1986,1987,1988,1989,1990,1991,1992,1993,1994,1995,1996,1997,1998,1999,2000,2001,2002,2003]},
   "axis": {"orient": "top", "labels": false, "ticks": false, "domain": false, "grid": true, "gridColor": "#000", "gridWidth": 1, "gridOpacity": 1, "tickBand": "extent", "zindex": 1, "title": null}},
  "y": {"field": "st", "type": "nominal",
   "scale": {"type": "band", "paddingInner": 0, "paddingOuter": 0, "domain": ["Oneg","Sevr","Mezn","PchU","PchO","Ob","Nadm","PurU","PurS","Taz","Yen","Nor","Khat","Anab","Olnk","Lena","Yana","Indk","KolS","KolK"]},
   "axis": {"orient": "right", "labels": false, "ticks": false, "domain": false, "grid": true, "gridColor": "#000", "gridWidth": 1, "gridOpacity": 1, "tickBand": "extent", "zindex": 1, "title": null}}
 }},
{"mark": {"type": "text", "angle": 270, "align": "left", "baseline": "middle", "fontSize": 11, "yOffset": 2.7, "fill": "#000", "font": "Liberation Sans"},
 "encoding": {
  "x": {"field": "yr", "type": "ordinal",
   "scale": {"type": "band", "paddingInner": 0, "paddingOuter": 0, "domain": [1929,1930,1931,1932,1933,1934,1935,1936,1937,1938,1939,1940,1941,1942,1943,1944,1945,1946,1947,1948,1949,1950,1951,1952,1953,1954,1955,1956,1957,1958,1959,1960,1961,1962,1963,1964,1965,1966,1967,1968,1969,1970,1971,1972,1973,1974,1975,1976,1977,1978,1979,1980,1981,1982,1983,1984,1985,1986,1987,1988,1989,1990,1991,1992,1993,1994,1995,1996,1997,1998,1999,2000,2001,2002,2003]},
   "axis": {"orient": "bottom", "values": [1930,1940,1950,1960,1970,1980,1990,2000], "labelAngle": 0, "tickSize": 18, "tickColor": "#000", "tickWidth": 1.3, "labelFontSize": 29.5, "labelPadding": 24, "domain": false, "grid": false, "title": "Year", "titleFontSize": 29.5, "titlePadding": 6}},
  "y": {"field": "st", "type": "nominal",
   "scale": {"type": "band", "paddingInner": 0, "paddingOuter": 0, "domain": ["Oneg","Sevr","Mezn","PchU","PchO","Ob","Nadm","PurU","PurS","Taz","Yen","Nor","Khat","Anab","Olnk","Lena","Yana","Indk","KolS","KolK"]},
   "axis": {"orient": "left", "ticks": false, "domain": false, "grid": false, "labelFontSize": 16, "labelPadding": 17.7, "title": "River Temperature Monitoring Station", "titleFontSize": 33, "titlePadding": 50}},
  "text": {"field": "v", "type": "nominal"}
 }}
],
"resolve": {"axis": {"x": "independent", "y": "independent"}}
}
